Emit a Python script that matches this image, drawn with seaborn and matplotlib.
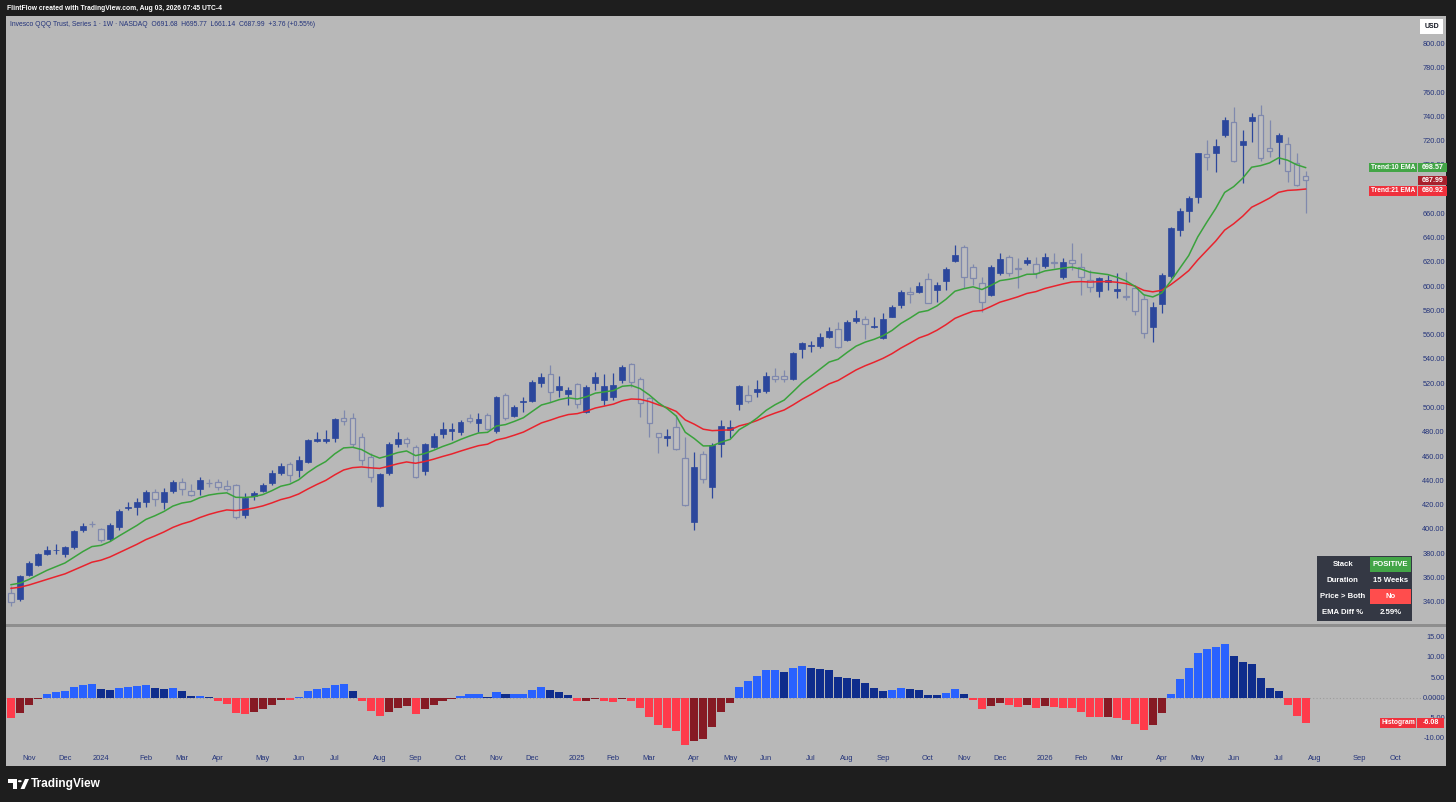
import numpy as np
import pandas as pd
import matplotlib
matplotlib.use("Agg")
import matplotlib.pyplot as plt
from matplotlib.patches import Rectangle, Circle, Polygon
import seaborn as sns

W, H = 1456, 802

# weekly candles, first bar = week of Oct 23 2023
opens = [348.0, 342.7, 362.8, 371.0, 380.4, 383.0, 380.1, 385.6, 400.0, 405.0,
         400.4, 392.7, 402.6, 418.3, 418.6, 423.2, 430.9, 423.2, 432.0, 439.7,
         431.7, 433.7, 438.8, 439.7, 436.4, 436.9, 412.2, 427.9, 432.2, 438.8,
         446.6, 454.0, 449.3, 456.1, 473.4, 473.2, 475.4, 491.9, 491.9, 476.3,
         460.3, 419.9, 447.1, 470.5, 474.6, 468.5, 448.5, 468.5, 478.7, 481.4,
         480.9, 491.9, 488.3, 494.6, 481.7, 511.1, 493.8, 505.4, 506.2, 520.8,
         528.4, 515.2, 512.0, 520.4, 497.4, 520.8, 507.0, 509.7, 523.5, 536.4,
         524.0, 508.4, 480.1, 475.9, 485.0, 459.5, 406.4, 462.3, 435.5, 470.5,
         482.3, 503.7, 511.1, 513.4, 514.4, 527.0, 527.0, 524.3, 548.8, 551.5,
         551.5, 559.2, 565.6, 556.4, 572.1, 573.5, 567.2, 558.3, 575.7, 585.3,
         596.3, 596.3, 606.5, 597.7, 605.1, 621.8, 632.9, 616.4, 603.7, 593.5,
         611.4, 624.6, 616.1, 619.7, 618.8, 617.4, 621.0, 608.1, 622.4, 616.9,
         605.9, 597.1, 604.5, 597.1, 593.0, 599.1, 590.0, 566.9, 586.1, 609.2,
         647.1, 663.0, 674.1, 709.5, 710.8, 725.4, 736.4, 717.2, 737.2, 741.9,
         714.4, 719.9, 718.0, 702.1, 691.68]
highs = [353.4, 363.0, 374.0, 381.0, 387.0, 388.0, 386.5, 400.0, 405.9, 407.5,
         401.3, 405.5, 417.0, 423.0, 426.0, 432.8, 433.7, 434.2, 441.1, 442.5,
         437.5, 443.8, 441.6, 441.9, 441.1, 437.8, 430.1, 432.0, 438.8, 449.3,
         455.3, 456.1, 460.8, 474.6, 480.8, 482.3, 491.9, 498.7, 496.0, 479.6,
         463.1, 446.6, 472.7, 480.9, 476.8, 470.0, 471.3, 479.6, 489.1, 487.8,
         490.5, 495.2, 496.5, 496.0, 510.3, 512.5, 502.9, 509.7, 523.5, 529.0,
         535.8, 526.8, 518.0, 520.8, 519.4, 529.8, 528.2, 529.0, 535.8, 537.8,
         526.2, 509.7, 480.1, 482.8, 494.6, 476.8, 464.4, 465.0, 471.3, 490.5,
         490.5, 519.4, 519.4, 523.5, 530.3, 533.1, 532.0, 546.8, 555.1, 555.9,
         562.0, 566.9, 571.5, 572.9, 581.2, 576.2, 575.7, 578.5, 585.3, 597.7,
         600.4, 604.5, 611.4, 604.0, 616.9, 634.8, 634.8, 619.1, 608.6, 618.3,
         627.9, 626.5, 623.8, 624.6, 625.1, 628.4, 627.9, 623.8, 636.1, 627.9,
         614.2, 608.6, 610.0, 611.4, 612.7, 601.8, 593.5, 588.0, 611.9, 649.5,
         665.0, 675.1, 710.8, 721.3, 721.9, 740.5, 748.2, 729.5, 743.8, 750.1,
         737.8, 726.8, 724.0, 710.3, 695.77]
lows = [337.5, 341.5, 362.0, 370.0, 379.5, 380.0, 378.0, 384.5, 398.5, 402.5,
        390.2, 391.0, 400.0, 416.0, 412.2, 419.0, 419.6, 416.9, 430.1, 428.7,
        427.9, 428.7, 435.5, 432.8, 432.2, 408.7, 409.5, 425.0, 431.4, 436.9,
        445.2, 439.7, 443.8, 455.3, 472.7, 471.8, 472.7, 486.4, 468.5, 453.4,
        439.7, 419.1, 445.2, 468.5, 468.5, 443.0, 445.2, 467.2, 475.4, 474.0,
        478.2, 487.8, 481.0, 482.3, 479.6, 490.5, 492.7, 497.4, 505.6, 518.0,
        505.6, 509.7, 502.9, 500.2, 496.0, 515.2, 502.9, 507.0, 520.8, 518.0,
        493.2, 476.8, 463.1, 469.1, 465.8, 419.6, 400.1, 438.8, 426.0, 460.3,
        475.4, 498.7, 504.3, 509.7, 513.0, 522.1, 522.0, 523.5, 541.4, 546.8,
        549.6, 557.9, 549.6, 555.9, 570.2, 557.0, 566.0, 557.0, 575.2, 582.6,
        586.7, 594.9, 586.7, 588.0, 597.7, 621.0, 599.1, 601.8, 579.8, 592.7,
        610.0, 609.2, 599.1, 618.3, 607.3, 615.6, 615.6, 606.5, 614.2, 593.5,
        596.3, 592.1, 597.7, 590.8, 589.4, 577.1, 558.0, 555.1, 578.5, 607.5,
        642.2, 654.0, 669.1, 696.6, 695.2, 724.0, 703.4, 685.6, 719.9, 704.2,
        707.5, 701.5, 686.9, 683.0, 661.14]
closes = [340.6, 362.0, 372.7, 380.1, 383.3, 383.5, 386.1, 399.0, 403.2, 404.5,
          391.6, 404.0, 415.8, 419.0, 423.2, 430.9, 425.1, 430.9, 439.7, 433.4,
          428.7, 441.1, 438.3, 435.1, 433.4, 410.3, 426.0, 430.1, 436.9, 446.6,
          452.6, 445.2, 457.5, 474.0, 474.6, 474.6, 491.1, 489.7, 470.5, 457.5,
          443.8, 445.8, 470.5, 474.6, 471.3, 443.8, 470.5, 477.6, 482.8, 482.8,
          489.1, 490.0, 491.1, 482.8, 509.2, 491.9, 501.5, 505.9, 521.6, 526.2,
          513.8, 518.5, 515.2, 503.5, 518.0, 526.2, 518.5, 519.4, 534.4, 522.1,
          504.3, 487.8, 476.3, 477.3, 466.4, 420.5, 452.0, 441.7, 469.9, 485.8,
          485.0, 518.5, 506.2, 516.3, 526.8, 524.0, 524.0, 545.5, 553.7, 552.0,
          558.7, 563.9, 551.0, 571.5, 574.8, 569.4, 567.6, 573.5, 583.9, 596.3,
          594.1, 600.9, 587.2, 601.8, 614.7, 626.5, 608.1, 607.3, 588.0, 616.9,
          622.9, 611.4, 614.8, 622.4, 611.4, 625.1, 619.7, 621.0, 620.2, 608.1,
          600.4, 607.3, 605.9, 598.5, 591.9, 580.6, 562.0, 583.9, 610.0, 648.5,
          663.0, 673.7, 710.3, 707.5, 716.3, 737.8, 704.2, 720.7, 740.0, 706.2,
          712.5, 725.4, 695.7, 684.23, 687.99]

# histogram pane values
hist = [-4.8, -3.5, -1.7, -0.25, 1.1, 1.6, 1.9, 2.8, 3.3, 3.5,
        2.2, 2.1, 2.6, 2.8, 3.1, 3.3, 2.6, 2.3, 2.5, 1.7,
        0.6, 0.65, 0.3, -0.65, -1.3, -3.55, -3.9, -3.4, -2.6, -1.6,
        -0.4, -0.5, 0.3, 1.8, 2.4, 2.5, 3.4, 3.55, 1.7, -0.6,
        -3.1, -4.4, -3.4, -2.4, -1.9, -3.8, -2.7, -1.65, -0.65, -0.15,
        0.65, 1.0, 1.15, 0.3, 1.65, 1.0, 1.1, 1.2, 2.15, 2.8,
        2.1, 1.6, 0.75, -0.75, -0.7, -0.25, -0.65, -1.0, -0.15, -0.65,
        -2.3, -4.5, -6.5, -7.3, -8.1, -11.6, -10.5, -10.1, -7.0, -3.4,
        -1.15, 2.8, 4.3, 5.5, 6.9, 6.95, 6.5, 7.45, 8.0, 7.6,
        7.3, 6.95, 5.2, 5.15, 4.9, 3.8, 2.5, 1.9, 1.95, 2.5,
        2.2, 2.15, 0.9, 0.75, 1.4, 2.3, 1.0, -0.3, -2.55, -1.8,
        -1.1, -1.75, -2.05, -1.65, -2.5, -1.8, -2.15, -2.3, -2.4, -3.3,
        -4.55, -4.6, -4.5, -4.9, -5.3, -6.3, -7.8, -6.5, -3.7, 1.1,
        4.9, 7.45, 11.2, 12.3, 12.7, 13.5, 10.5, 8.9, 8.5, 4.95,
        2.65, 1.8, -1.6, -4.4, -6.08]

ema10_seed = 354.8
ema21_seed = 351.8

price_ticks = list(range(340, 801, 20))
hist_ticks = [15, 10, 5, 0, -5, -10]
hist_tick_labels = ["15.00", "10.00", "5.00", "0.0000", "-5.00", "-10.00"]

table_rows = [("Stack", "POSITIVE"), ("Duration", "15 Weeks"),
              ("Price > Both", "No"), ("EMA Diff %", "2.59%")]

BG = "#b8b8b8"
DARK = "#1e1e1e"
TXT = "#23337a"
UP = "#2c479c"
DOWN_EDGE = "#8089ad"
GREEN = "#43a547"
RED = "#f0303c"


def ema(values, span, seed):
    a = 2.0 / (span + 1)
    out = [seed]
    for v in values[1:]:
        out.append(out[-1] + a * (v - out[-1]))
    return np.array(out)


o = np.array(opens); h_ = np.array(highs); l_ = np.array(lows); c = np.array(closes)
n = len(c)
pos = np.arange(n)
ema10 = ema(c, 10, ema10_seed)
ema21 = ema(c, 21, ema21_seed)

dates = pd.date_range("2023-10-23", periods=170, freq="W-MON")

plt.rcParams["font.family"] = ["Liberation Sans", "DejaVu Sans"]

fig = plt.figure(figsize=(W / 100, H / 100), dpi=100, facecolor=DARK)


def fx(x):
    return x / W


def fy(y):
    return 1 - y / H


def px_axes(x0, y0, x1, y1):
    return fig.add_axes([fx(x0), fy(y1), (x1 - x0) / W, (y1 - y0) / H])


# x mapping: bar 2 (Nov 6 2023) sits at pixel 29, 8.99 px per week
step = 8.99
xl = ((6 - 29) / step + 2, (1446 - 29) / step + 2)

ax = px_axes(6, 16, 1446, 624)
axh = px_axes(6, 627, 1446, 766)
for a in (ax, axh):
    a.set_facecolor(BG)
    for s in a.spines.values():
        s.set_visible(False)
    a.set_xticks([])
    a.set_yticks([])
    a.set_xlim(*xl)

ax.set_ylim(322.4, 823.5)
axh.set_ylim(-16.73, 17.65)

# separator between panes
fig.add_artist(Rectangle((fx(6), fy(627)), 1440 / W, 3 / H, transform=fig.transFigure,
                         color="#8e8e8e", lw=0))

# candles
up = c >= o
ax.vlines(pos[up], l_[up], h_[up], color=UP, lw=0.9, zorder=2)
ax.vlines(pos[~up], l_[~up], h_[~up], color=DOWN_EDGE, lw=0.9, zorder=2)
ax.bar(pos[up], np.maximum(c[up] - o[up], 0.4), bottom=o[up], width=0.66,
       color=UP, edgecolor=UP, lw=0.5, zorder=3)
ax.bar(pos[~up], np.maximum(o[~up] - c[~up], 0.4), bottom=c[~up], width=0.62,
       facecolor="#bdbdbf", edgecolor=DOWN_EDGE, lw=0.9, zorder=3)

# EMAs
sns.lineplot(x=pos, y=ema21, color="#e8232d", lw=1.1, ax=ax, zorder=4)
sns.lineplot(x=pos, y=ema10, color="#3aa23c", lw=1.1, ax=ax, zorder=4)
ax.set_xlim(*xl)
ax.set_ylim(322.4, 823.5)

# histogram
hv = np.array(hist)
prev = np.r_[hv[0] + 1, hv[:-1]]
kind = np.where(hv >= 0, np.where(hv >= prev, "pos_up", "pos_dn"),
                np.where(hv < prev, "neg_dn", "neg_up"))
hdf = pd.DataFrame({"pos": pos, "hist": hv, "kind": kind})
pal = {"pos_up": "#2962ff", "pos_dn": "#0f2d8c", "neg_dn": "#ff3b4b", "neg_up": "#861a24"}
axh.axhline(0, color="#9c9c9c", lw=0.8, ls=(0, (1, 2)), zorder=1)
sns.barplot(data=hdf, x="pos", y="hist", hue="kind", palette=pal, native_scale=True,
            dodge=False, errorbar=None, width=0.9, saturation=1, legend=False,
            linewidth=0, ax=axh, zorder=2)
axh.set_xlim(*xl)
axh.set_ylim(-16.73, 17.65)
axh.set_xlabel("")
axh.set_ylabel("")
axh.set_xticks([])
axh.set_yticks([])
ax.set_xlabel("")
ax.set_ylabel("")

# price scale labels
xr = (1445 - 6) / 1440
for v in price_ticks:
    ax.text(xr, v, f"{v:.2f}", transform=ax.get_yaxis_transform(), ha="right",
            va="center", fontsize=5.3, color=TXT)
for v, t in zip(hist_ticks, hist_tick_labels):
    axh.text(xr, v, t, transform=axh.get_yaxis_transform(), ha="right",
             va="center", fontsize=5.3, color=TXT)

# time axis labels at first bar of each month
seen = set()
for i, d in enumerate(dates):
    key = (d.year, d.month)
    if key in seen:
        continue
    seen.add(key)
    if i == 0 or d.day > 7:
        continue
    xp = 29 + (i - 2) * step
    if xp > 1400:
        break
    lab = str(d.year) if d.month == 1 else d.strftime("%b")
    axh.text(i, (766 - 758) / 139, lab, transform=axh.get_xaxis_transform(),
             ha="center", va="center", fontsize=5.4, color=TXT)

# header / legend text
fig.text(fx(7), fy(8), "FlintFlow created with TradingView.com, Aug 03, 2026 07:45 UTC-4",
         color="white", fontsize=4.9, va="center", weight="bold")
fig.text(fx(10), fy(24.5),
         "Invesco QQQ Trust, Series 1 \u00b7 1W \u00b7 NASDAQ  O691.68  H695.77  L661.14  C687.99  +3.76 (+0.55%)",
         color=TXT, fontsize=4.9, va="center")


def box(x0, y0, x1, y1, color, text=None, tcolor="white", size=5.0, weight="bold", ha="center"):
    fig.add_artist(Rectangle((fx(x0), fy(y1)), (x1 - x0) / W, (y1 - y0) / H,
                             transform=fig.transFigure, color=color, lw=0))
    if text is not None:
        tx = (x0 + x1) / 2 if ha == "center" else x0 + 3
        fig.text(fx(tx), fy((y0 + y1) / 2), text, color=tcolor, fontsize=size,
                 ha=ha, va="center", weight=weight)


def ypix(p):
    return 16 + (823.5 - p) / (823.5 - 322.4) * 608


# USD box
box(1420, 19, 1443, 34, "white", "USD", tcolor="#131722", size=5.0)

# EMA / price labels on the price scale
yg = ypix(698.57)
box(1369, yg - 4.8, 1417, yg + 4.8, GREEN, "Trend:10 EMA", size=4.8)
box(1418, yg - 4.8, 1447, yg + 4.8, GREEN, "698.57", size=5.1)
yc = ypix(687.99)
box(1418, yc - 4.6, 1447, yc + 4.6, "#a8202c", "687.99", size=5.1)
yrd = yc + 10.5
box(1369, yrd - 4.8, 1417, yrd + 4.8, RED, "Trend:21 EMA", size=4.8)
box(1418, yrd - 4.8, 1447, yrd + 4.8, RED, "680.92", size=5.1)

# histogram label
box(1380, 717.5, 1416, 727.5, "#f0303c", "Histogram", size=4.9)
box(1417, 717.5, 1444, 727.5, "#f0303c", "-6.08", size=5.1)

# stats table
tx0, tx1, tmid = 1316.5, 1411.5, 1369
box(tx0, 556, tx1, 620.5, "#343844")
for r, (k, v) in enumerate(table_rows):
    y0 = 556.5 + r * 16
    fig.text(fx((tx0 + tmid) / 2), fy(y0 + 7.7), k, color="white", fontsize=5.6,
             ha="center", va="center", weight="bold")
    cell = {0: GREEN, 2: "#ff4d4d"}.get(r)
    if cell:
        box(tmid + 1, y0 + 0.5, tx1 - 0.5, y0 + 15.2, cell)
    fig.text(fx((tmid + tx1) / 2), fy(y0 + 7.7), v, color="white", fontsize=5.6,
             ha="center", va="center", weight="bold")

# bottom TradingView logo
fig.add_artist(Rectangle((fx(7.5), fy(783)), 9.5 / W, 4 / H, transform=fig.transFigure,
                         color="white", lw=0))
fig.add_artist(Rectangle((fx(12.5), fy(789)), 4.5 / W, 10 / H, transform=fig.transFigure,
                         color="white", lw=0))
fig.add_artist(Circle((fx(19.8), fy(781.2)), 1.9 / W, transform=fig.transFigure,
                      color="white", lw=0))
fig.add_artist(Polygon([(fx(20.5), fy(789)), (fx(25), fy(779)), (fx(29), fy(779)),
                        (fx(24.5), fy(789))], closed=True, transform=fig.transFigure,
                       color="white", lw=0))
fig.text(fx(31), fy(784), "TradingView", color="white", fontsize=8.6,
         weight="bold", va="center")

fig.savefig("out.png", dpi=100, facecolor=DARK)
